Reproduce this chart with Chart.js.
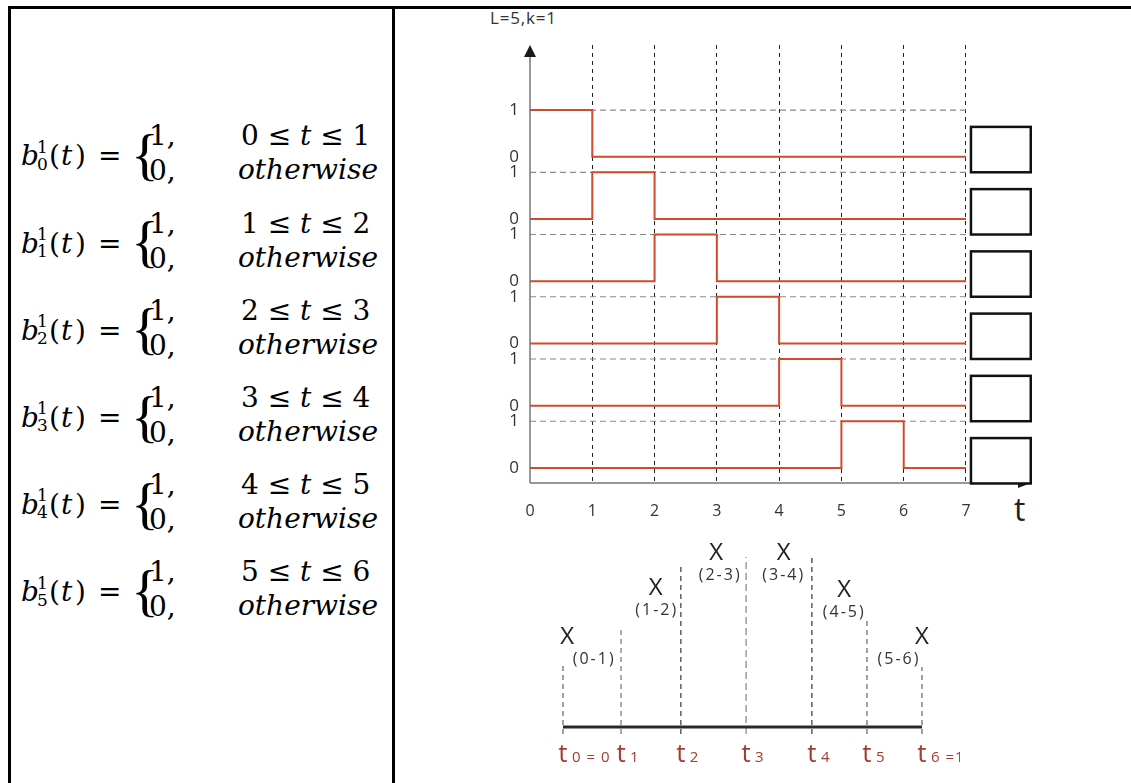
<!DOCTYPE html>
<html>
<head>
<meta charset="utf-8">
<title>B-spline basis, L=5, k=1</title>
<script src="https://cdn.jsdelivr.net/npm/chart.js@4.4.1/dist/chart.umd.min.js"></script>
<style>
  body { margin: 0; background: #fff; }
  #page { position: relative; width: 1131px; height: 783px; overflow: hidden; background: #fff; font-family: 'Open Sans', sans-serif; }
  .rule { position: absolute; background: #000; }
  .m { position: absolute; font-family: 'DejaVu Serif', serif; line-height: 1; color: #000; white-space: nowrap; }
  canvas { position: absolute; }
</style>
</head>
<body>
<div id="page">
  <div class="rule" style="left:8px;top:6px;width:1123px;height:3px"></div>
  <div class="rule" style="left:8px;top:6px;width:3px;height:777px"></div>
  <div class="rule" style="left:392px;top:6px;width:3px;height:777px"></div>
  <div id="formulas"></div>
  <div style="position:absolute;left:490px;top:6px;font-size:17px;letter-spacing:0.8px;color:#333">L=5,k=1</div>
  <div style="position:absolute;left:1014px;top:493px;font-size:32px;line-height:1;color:#222">t</div>
  <canvas id="basisChart" width="560" height="490" style="left:480px;top:40px"></canvas>
  <canvas id="knotChart" width="420" height="250" style="left:540px;top:530px"></canvas>
</div>
<script>
// top plot: first-order basis functions on the unit grid
const tKnots = [0, 1, 2, 3, 4, 5, 6, 7];
const xTickLabels = ['0', '1', '2', '3', '4', '5', '6', '7'];
const levelLabels = ['0', '1'];
const basisValues = [
  [1, 0, 0, 0, 0, 0, 0],
  [0, 1, 0, 0, 0, 0, 0],
  [0, 0, 1, 0, 0, 0, 0],
  [0, 0, 0, 1, 0, 0, 0],
  [0, 0, 0, 0, 1, 0, 0],
  [0, 0, 0, 0, 0, 1, 0]
];
const intervals = [[0, 1], [1, 2], [2, 3], [3, 4], [4, 5], [5, 6]];

// bottom plot: knot vector and where each coefficient sits
const knotT = [0, 0.97, 1.97, 3.06, 4.16, 5.08, 6];
const knotLineHeight = [62, 101, 164, 170, 169, 110, 60];
const knotNames = ['0 = 0', '1', '2', '3', '4', '5', '6 =1'];
const markX = [0.07, 1.55, 2.56, 3.69, 4.70, 6.0];
const markY = [90, 139, 174, 174, 137, 90];
const markLabels = ['(0-1)', '(1-2)', '(2-3)', '(3-4)', '(4-5)', '(5-6)'];

const red = '#d04a2c';

// ---- formulas in the left cell ----
const fbox = document.getElementById('formulas');
function mathText(html, left, baseline, size, italic, family) {
  const el = document.createElement('div');
  el.className = 'm';
  el.style.fontSize = size + 'px';
  if (italic) el.style.fontStyle = 'italic';
  if (family) el.style.fontFamily = family;
  el.style.left = left + 'px';
  el.style.top = (baseline - 0.846 * size) + 'px';
  el.innerHTML = html;
  fbox.appendChild(el);
}
intervals.forEach((iv, i) => {
  const y = 166 + i * 87.2;
  mathText('b', 21, y, 28, true);
  mathText('1', 37, y - 13, 17);
  mathText(String(i), 37, y + 4, 17);
  mathText('(', 49, y, 28);
  mathText('t', 61, y, 28, true);
  mathText(')', 75, y, 28);
  mathText('=', 98, y, 28);
  mathText('{', 131, y + 9, 58, false, "'Liberation Serif', serif");
  mathText('1,', 149, y - 20, 28);
  mathText('0,', 149, y + 15, 28);
  mathText(iv[0] + ' ≤ <i>t</i> ≤ ' + iv[1], 241, y - 20, 28);
  mathText('otherwise', 238, y + 14, 28, true);
});

// ---- top chart ----
const bandStep = 1.33;
const bandBase = i => (basisValues.length - 1 - i) * bandStep;

const stepSets = basisValues.map((vals, i) => ({
  label: 'b' + i,
  data: tKnots.map((t, j) => ({ x: t, y: bandBase(i) + vals[Math.min(j, vals.length - 1)] })),
  stepped: 'before',
  borderColor: red,
  borderWidth: 2,
  pointRadius: 0,
  clip: false
}));
const levelSets = basisValues.map((vals, i) => ({
  label: 'one' + i,
  data: [{ x: tKnots[0], y: bandBase(i) + 1 }, { x: tKnots[tKnots.length - 1], y: bandBase(i) + 1 }],
  borderColor: '#8a8a8a',
  borderWidth: 1.2,
  borderDash: [6, 4],
  pointRadius: 0,
  clip: false
}));

const levelTicks = [];
const levelTickText = [];
basisValues.forEach((v, i) => {
  levelTicks.push(bandBase(i), bandBase(i) + 1);
  levelTickText.push(levelLabels[0], levelLabels[1]);
});

const axesAndBoxes = {
  id: 'axesAndBoxes',
  afterDatasetsDraw(chart) {
    const { ctx, chartArea: a, scales: { x, y } } = chart;
    ctx.save();
    ctx.strokeStyle = '#777';
    ctx.lineWidth = 1.5;
    ctx.beginPath();
    ctx.moveTo(a.left, a.bottom);
    ctx.lineTo(a.left, a.top + 10);
    ctx.moveTo(a.left, a.bottom);
    ctx.lineTo(a.right - 10, a.bottom);
    ctx.stroke();
    ctx.fillStyle = '#1a1a1a';
    ctx.beginPath();
    ctx.moveTo(a.left, a.top);
    ctx.lineTo(a.left - 6, a.top + 12);
    ctx.lineTo(a.left + 6, a.top + 12);
    ctx.closePath();
    ctx.fill();
    ctx.beginPath();
    ctx.moveTo(a.right - 1, a.bottom);
    ctx.lineTo(a.right - 14, a.bottom - 5);
    ctx.lineTo(a.right - 14, a.bottom + 5);
    ctx.closePath();
    ctx.fill();
    // empty coefficient boxes
    ctx.lineWidth = 2.5;
    ctx.strokeStyle = '#111';
    ctx.fillStyle = '#fff';
    basisValues.forEach((v, i) => {
      const x1 = x.getPixelForValue(7.08), x2 = x.getPixelForValue(8.04);
      const y1 = y.getPixelForValue(bandBase(i) + 0.64), y2 = y.getPixelForValue(bandBase(i) - 0.33);
      ctx.fillRect(x1, y1, x2 - x1, y2 - y1);
      ctx.strokeRect(x1, y1, x2 - x1, y2 - y1);
    });
    ctx.restore();
  }
};

new Chart(document.getElementById('basisChart'), {
  type: 'line',
  data: { datasets: [...stepSets, ...levelSets] },
  options: {
    responsive: false,
    animation: false,
    layout: { padding: { top: 5, right: 8, left: 0, bottom: 0 } },
    plugins: { legend: { display: false }, tooltip: { enabled: false } },
    scales: {
      x: {
        type: 'linear', min: 0, max: 8.06,
        afterBuildTicks: s => { s.ticks = tKnots.map(v => ({ value: v })); },
        afterFit: s => { s.height = 47; s.paddingLeft = 0; s.paddingRight = 0; },
        ticks: {
          callback: (v, idx) => xTickLabels[idx],
          color: '#333', font: { family: 'Open Sans', size: 16 },
          padding: 19, maxRotation: 0, autoSkip: false
        },
        grid: {
          color: c => (c.tick && c.tick.value > 0) ? '#1e1e1e' : 'rgba(0,0,0,0)',
          lineWidth: 1, drawTicks: false
        },
        border: { display: false, dash: [4, 4] }
      },
      y: {
        type: 'linear', min: -0.32, max: 9.04,
        afterBuildTicks: s => { s.ticks = levelTicks.map(v => ({ value: v })); },
        afterFit: s => { s.width = 50; s.paddingTop = 0; s.paddingBottom = 0; },
        ticks: {
          callback: (v, idx) => levelTickText[idx],
          color: '#333', font: { family: 'Open Sans', size: 17 },
          padding: 3, autoSkip: false
        },
        grid: { display: false },
        border: { display: false }
      }
    }
  },
  plugins: [axesAndBoxes]
});

// ---- bottom chart ----
const knotColors = ['#555', '#666', '#222', '#777', '#222', '#555', '#555'];
const knotSets = knotT.map((k, j) => ({
  label: 't' + j,
  data: [{ x: k, y: -7 }, { x: k, y: knotLineHeight[j] }],
  borderColor: knotColors[j],
  borderWidth: 1.1,
  borderDash: j === 3 ? [7, 4] : [5, 4],
  pointRadius: 0,
  clip: false
}));
const markSet = {
  label: 'coef',
  data: markX.map((x, j) => ({ x: x, y: markY[j] })),
  showLine: false,
  pointRadius: 0,
  clip: false
};
const labelShift = [26, 0, 3, -1, -1, -24];

const knotAxis = {
  id: 'knotAxis',
  afterDatasetsDraw(chart) {
    const { ctx, scales: { x, y } } = chart;
    const y0 = y.getPixelForValue(0);
    ctx.save();
    ctx.strokeStyle = '#2a2a2a';
    ctx.lineWidth = 3;
    ctx.beginPath();
    ctx.moveTo(x.getPixelForValue(knotT[0]), y0);
    ctx.lineTo(x.getPixelForValue(knotT[knotT.length - 1]), y0);
    ctx.stroke();
    ctx.fillStyle = '#a83a30';
    ctx.textBaseline = 'alphabetic';
    knotT.forEach((k, j) => {
      const px = x.getPixelForValue(k);
      ctx.font = '26px "Open Sans"';
      ctx.textAlign = 'center';
      ctx.letterSpacing = '0px';
      ctx.fillText('t', px, y0 + 35);
      ctx.font = '15px "Open Sans"';
      ctx.textAlign = 'left';
      ctx.letterSpacing = '1px';
      ctx.fillText(knotNames[j], px + 9, y0 + 35);
    });
    const pts = chart.getDatasetMeta(knotSets.length).data;
    ctx.textAlign = 'center';
    ctx.textBaseline = 'middle';
    pts.forEach((p, j) => {
      ctx.fillStyle = '#222';
      ctx.letterSpacing = '0px';
      ctx.font = '24px "Open Sans"';
      ctx.fillText('X', p.x, p.y);
      ctx.fillStyle = '#333';
      ctx.letterSpacing = '2px';
      ctx.font = '16px "Open Sans"';
      ctx.fillText(markLabels[j], p.x + labelShift[j] + 1, p.y + 22);
    });
    ctx.restore();
  }
};

new Chart(document.getElementById('knotChart'), {
  type: 'line',
  data: { datasets: [...knotSets, markSet] },
  options: {
    responsive: false,
    animation: false,
    layout: { padding: { top: 12, right: 38, left: 23, bottom: 45 } },
    plugins: { legend: { display: false }, tooltip: { enabled: false } },
    scales: {
      x: { type: 'linear', min: 0, max: 6, display: false },
      y: { type: 'linear', min: -8, max: 185, display: false }
    }
  },
  plugins: [knotAxis]
});
</script>
</body>
</html>
